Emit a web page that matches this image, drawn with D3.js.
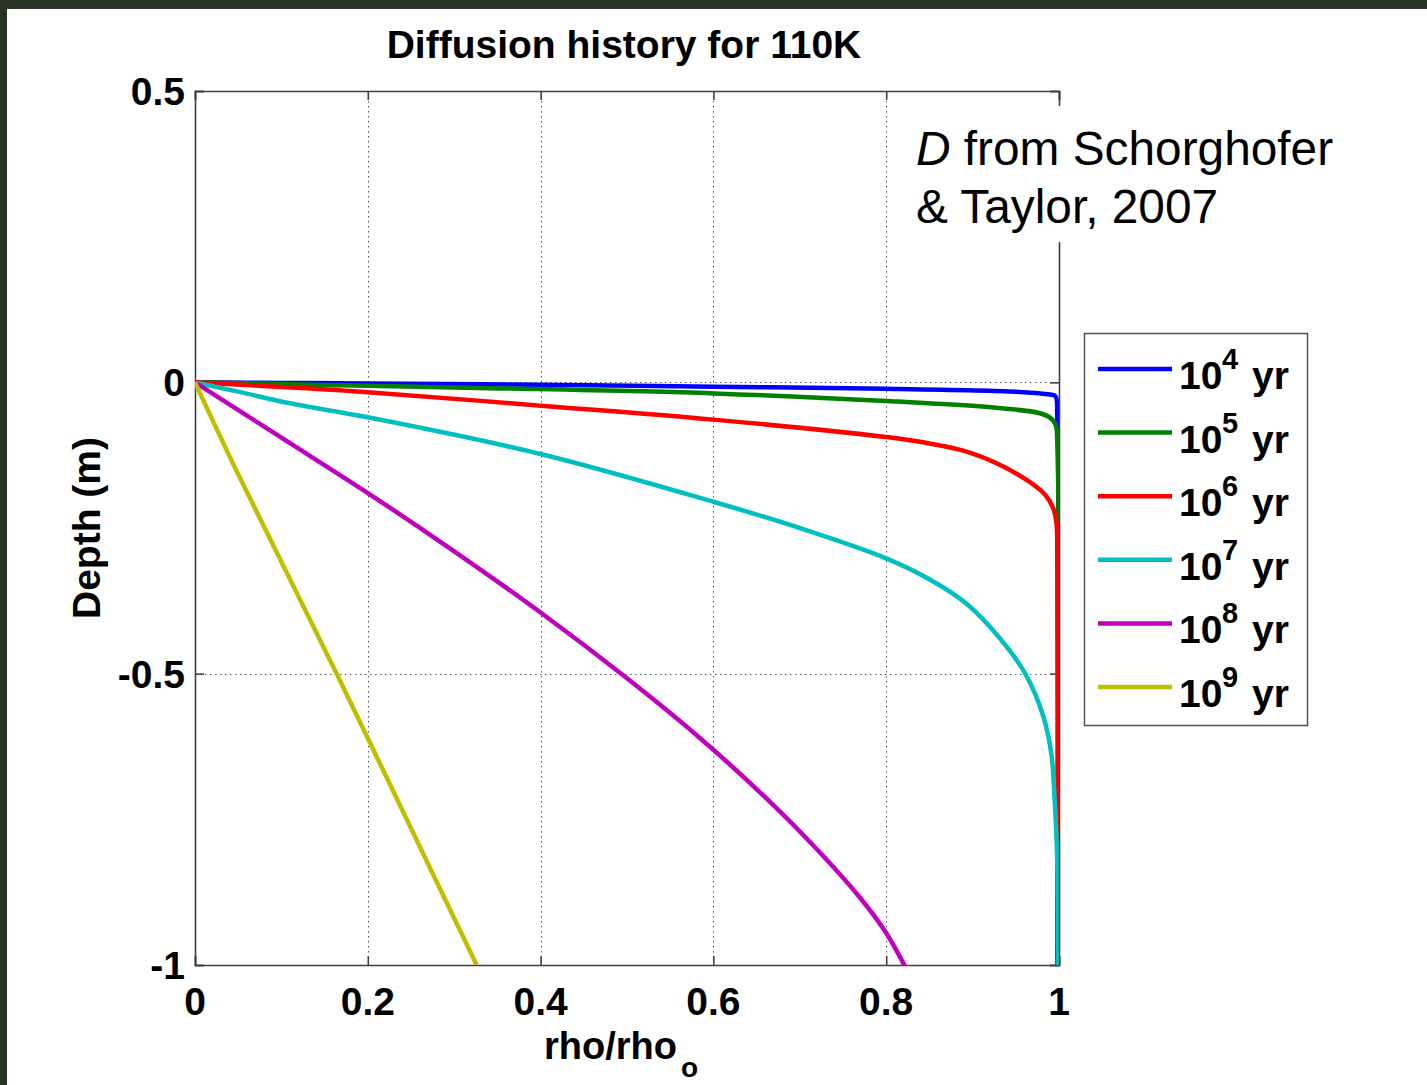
<!DOCTYPE html>
<html><head><meta charset="utf-8">
<script src="https://cdn.jsdelivr.net/npm/d3@7"></script>
<style>
html,body{margin:0;padding:0;background:#2a3426;}
svg{display:block;}
text{font-family:"Liberation Sans",Arial,sans-serif;}
</style></head>
<body>
<svg id="chart" width="1427" height="1085"></svg>
<script>
// ---- data ----
const title = "Diffusion history for 110K";
const xTicks = [0, 0.2, 0.4, 0.6, 0.8, 1];
const xTickLabels = ["0", "0.2", "0.4", "0.6", "0.8", "1"];
const yTicks = [0.5, 0, -0.5, -1];
const yTickLabels = ["0.5", "0", "-0.5", "-1"];
const legendExponents = ["4", "5", "6", "7", "8", "9"];
const seriesColors = ["#0000ff", "#008000", "#ff0000", "#00bfbf", "#bf00bf", "#bfbf00"];

const rho_1e4   = [0, 0.1, 0.2, 0.4, 0.6, 0.8, 0.95, 0.978, 0.99, 0.996, 0.998, 0.998];
const depth_1e4 = [0, -0.001, -0.002, -0.004, -0.0075, -0.011, -0.016, -0.019, -0.021, -0.024, -0.06, -1];

const rho_1e5   = [0, 0.1, 0.2, 0.34, 0.6, 0.8, 0.93, 0.978, 0.99, 0.996, 0.998, 0.998];
const depth_1e5 = [0, -0.003, -0.006, -0.010, -0.019, -0.032, -0.044, -0.053, -0.061, -0.072, -0.1, -1];

const rho_1e6   = [0, 0.1, 0.2, 0.4, 0.6, 0.8, 0.85, 0.893, 0.932, 0.966, 0.984, 0.993, 0.997, 0.998, 0.998];
const depth_1e6 = [0, -0.008, -0.017, -0.040, -0.064, -0.094, -0.105, -0.119, -0.142, -0.171, -0.193, -0.215, -0.24, -0.3, -1];

const rho_1e7   = [0, 0.05, 0.11, 0.2, 0.4, 0.6, 0.7, 0.8, 0.85, 0.893, 0.932, 0.961, 0.982, 0.991, 0.995, 0.998, 0.999];
const depth_1e7 = [0, -0.016, -0.036, -0.060, -0.123, -0.205, -0.25, -0.302, -0.338, -0.38, -0.44, -0.5, -0.574, -0.636, -0.717, -0.82, -1];

const rho_1e8   = [0, 0.1, 0.2, 0.3, 0.4, 0.5, 0.584, 0.662, 0.719, 0.77, 0.8, 0.822];
const depth_1e8 = [0, -0.095, -0.19, -0.29, -0.395, -0.508, -0.61, -0.715, -0.8, -0.885, -0.945, -1.003];

const rho_1e9   = [0, 0.052, 0.164, 0.245, 0.326];
const depth_1e9 = [0, -0.164, -0.5, -0.75, -1];

const seriesRho = [rho_1e4, rho_1e5, rho_1e6, rho_1e7, rho_1e8, rho_1e9];
const seriesDepth = [depth_1e4, depth_1e5, depth_1e6, depth_1e7, depth_1e8, depth_1e9];

// ---- layout ----
const svg = d3.select("#chart");
const W = 1427, H = 1085;
const m = {left: 195, right: 1059, top: 91, bottom: 965};

svg.append("rect").attr("x", 7).attr("y", 9).attr("width", W - 7).attr("height", H - 9).attr("fill", "#ffffff");

const x = d3.scaleLinear().domain([0, 1]).range([m.left, m.right]);
const y = d3.scaleLinear().domain([-1, 0.5]).range([m.bottom, m.top]);

// grid
const grid = svg.append("g").attr("stroke", "#555").attr("stroke-width", 1).attr("stroke-dasharray", "1.5,3.5");
grid.selectAll("line.gx").data(xTicks.filter(d => d > 0 && d < 1)).enter().append("line")
  .attr("x1", d => Math.round(x(d)) + 0.5).attr("x2", d => Math.round(x(d)) + 0.5)
  .attr("y1", m.top).attr("y2", m.bottom);
grid.selectAll("line.gy").data(yTicks.filter(d => d > -1 && d < 0.5)).enter().append("line")
  .attr("y1", d => Math.round(y(d)) + 0.5).attr("y2", d => Math.round(y(d)) + 0.5)
  .attr("x1", m.left).attr("x2", m.right);

// axes with inward ticks
const tickLen = 9;
const axB = svg.append("g").attr("transform", `translate(0,${m.bottom})`)
  .call(d3.axisBottom(x).tickValues(xTicks).tickSize(-tickLen).tickFormat(""));
const axT = svg.append("g").attr("transform", `translate(0,${m.top})`)
  .call(d3.axisTop(x).tickValues(xTicks).tickSize(-tickLen).tickFormat(""));
const axL = svg.append("g").attr("transform", `translate(${m.left},0)`)
  .call(d3.axisLeft(y).tickValues(yTicks).tickSize(-tickLen).tickFormat(""));
const axR = svg.append("g").attr("transform", `translate(${m.right},0)`)
  .call(d3.axisRight(y).tickValues(yTicks).tickSize(-tickLen).tickFormat(""));
[axB, axT, axL, axR].forEach(a => {
  a.selectAll("path,line").attr("stroke", "#404040").attr("stroke-width", 1.6);
});

// tick labels
svg.append("g").selectAll("text").data(xTicks).enter().append("text")
  .attr("x", d => x(d)).attr("y", 1015).attr("text-anchor", "middle")
  .attr("font-size", 39).attr("font-weight", "bold").attr("fill", "#000")
  .text((d, i) => xTickLabels[i]);
svg.append("g").selectAll("text").data(yTicks).enter().append("text")
  .attr("x", 185).attr("y", d => y(d) + 14).attr("text-anchor", "end")
  .attr("font-size", 39).attr("font-weight", "bold").attr("fill", "#000")
  .text((d, i) => yTickLabels[i]);

// series
svg.append("clipPath").attr("id", "plotclip").append("rect")
  .attr("x", m.left).attr("y", m.top - 2).attr("width", m.right - m.left).attr("height", m.bottom - m.top + 2);
const line = d3.line().x(d => x(d[0])).y(d => y(d[1])).curve(d3.curveCatmullRom.alpha(0.5));
const lines = svg.append("g").attr("clip-path", "url(#plotclip)");
seriesRho.forEach((r, i) => {
  const pts = r.map((v, j) => [v, seriesDepth[i][j]]);
  lines.append("path").datum(pts).attr("d", line)
    .attr("fill", "none").attr("stroke", seriesColors[i]).attr("stroke-width", 4.5)
    .attr("stroke-linejoin", "round");
});

// title
svg.append("text").attr("x", 624).attr("y", 58).attr("text-anchor", "middle")
  .attr("font-size", 39).attr("font-weight", "bold").text(title);

// x label
const xl = svg.append("text").attr("x", 544).attr("y", 1059)
  .attr("font-size", 38).attr("font-weight", "bold");
xl.append("tspan").text("rho/rho");
xl.append("tspan").attr("font-size", 28).attr("dy", 18).attr("dx", 4).text("o");

// y label
svg.append("text").attr("transform", "translate(100,528) rotate(-90)")
  .attr("text-anchor", "middle").attr("font-size", 39).attr("font-weight", "bold")
  .text("Depth (m)");

// annotation
svg.append("rect").attr("x", 905).attr("y", 106).attr("width", 445).attr("height", 136).attr("fill", "#fff");
const an1 = svg.append("text").attr("x", 916).attr("y", 165).attr("font-size", 47.8);
an1.append("tspan").attr("font-style", "italic").text("D");
an1.append("tspan").text(" from Schorghofer");
svg.append("text").attr("x", 916).attr("y", 223).attr("font-size", 47.8).text("& Taylor, 2007");

// legend
const lg = svg.append("g");
lg.append("rect").attr("x", 1084.5).attr("y", 333.5).attr("width", 223).attr("height", 392)
  .attr("fill", "#fff").attr("stroke", "#555").attr("stroke-width", 1.5);
legendExponents.forEach((e, i) => {
  const cy = 369 + i * 63.6;
  lg.append("line").attr("x1", 1098).attr("x2", 1172).attr("y1", cy).attr("y2", cy)
    .attr("stroke", seriesColors[i]).attr("stroke-width", 4.5);
  const t = lg.append("g").attr("font-weight", "bold").attr("fill", "#000");
  t.append("text").attr("x", 1179).attr("y", cy + 20).attr("font-size", 39).text("10");
  t.append("text").attr("x", 1222).attr("y", cy).attr("font-size", 29).text(e);
  t.append("text").attr("x", 1252).attr("y", cy + 20).attr("font-size", 39).text("yr");
});
</script>
</body></html>
